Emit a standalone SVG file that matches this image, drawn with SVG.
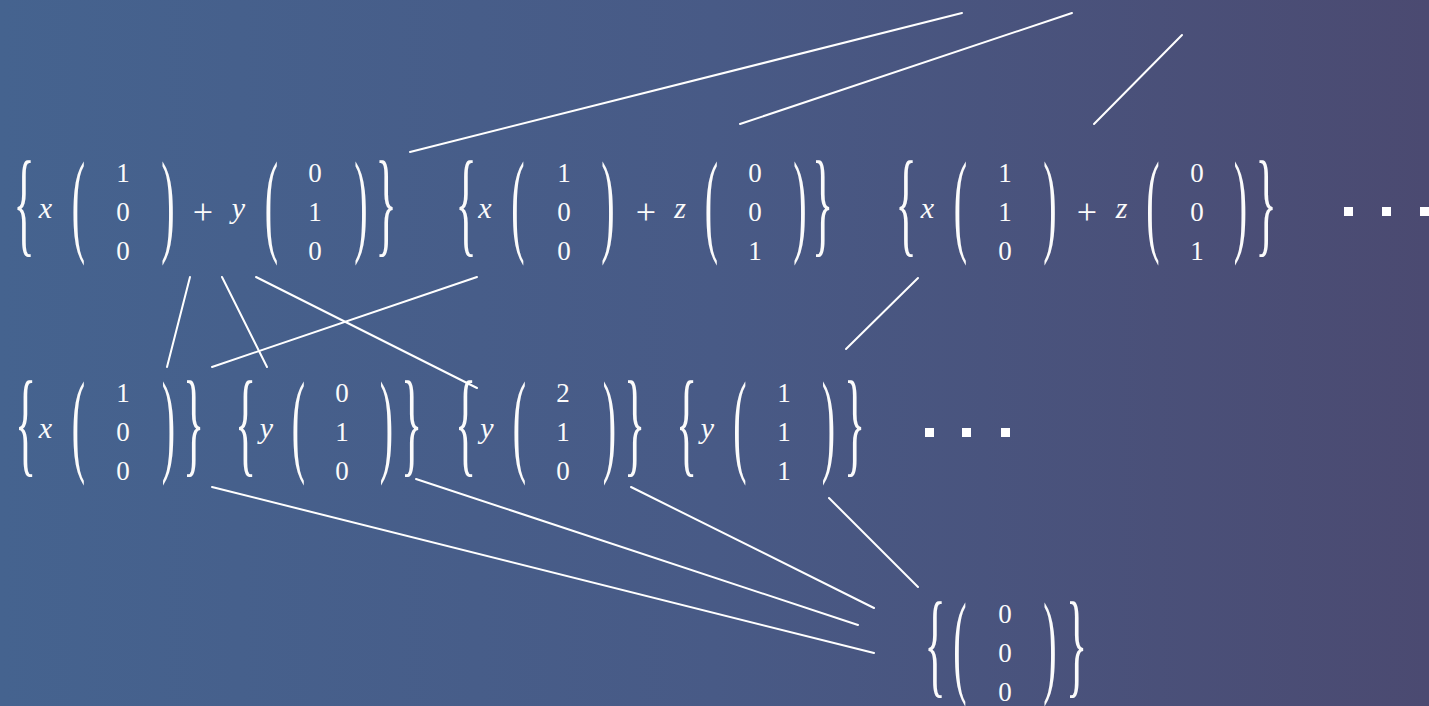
<svg xmlns="http://www.w3.org/2000/svg" width="1429" height="706" viewBox="0 0 1429 706">
<style>
.d{font-family:"Liberation Serif",serif;font-size:27px;text-anchor:middle;fill:#fbfbfb}
.v{font-family:"Liberation Serif",serif;font-size:30px;font-style:italic;text-anchor:middle;fill:#fbfbfb}
.p{font-family:"Liberation Serif",serif;font-size:36px;text-anchor:middle;fill:#fbfbfb}
.b{font-family:"Liberation Serif",serif;font-size:40px;text-anchor:middle;fill:#fbfbfb}
</style>
<defs>
<linearGradient id="bg" x1="0" y1="0" x2="1" y2="0">
<stop offset="0" stop-color="#45638f"/>
<stop offset="0.5" stop-color="#485a86"/>
<stop offset="1" stop-color="#4b4a71"/>
</linearGradient>
</defs>
<rect width="1429" height="706" fill="url(#bg)"/>

<g id="n1">
<text class="b" transform="translate(24,241) scale(1.1,2.9)">{</text>
<text class="v" x="45.5" y="218">x</text>
<text class="b" transform="translate(78.5,241) scale(1,2.85)">(</text>
<text class="d" x="123" y="182">1</text><text class="d" x="123" y="221">0</text><text class="d" x="123" y="260">0</text>
<text class="b" transform="translate(168,241) scale(1,2.85)">)</text>
<text class="p" x="203" y="224">+</text>
<text class="v" x="238.5" y="218">y</text>
<text class="b" transform="translate(271.5,241) scale(1,2.85)">(</text>
<text class="d" x="315" y="182">0</text><text class="d" x="315" y="221">1</text><text class="d" x="315" y="260">0</text>
<text class="b" transform="translate(361,241) scale(1,2.85)">)</text>
<text class="b" transform="translate(386,241) scale(1.1,2.9)">}</text>
</g>

<g id="n2">
<text class="b" transform="translate(466,241) scale(1.1,2.9)">{</text>
<text class="v" x="485" y="218">x</text>
<text class="b" transform="translate(518,241) scale(1,2.85)">(</text>
<text class="d" x="564" y="182">1</text><text class="d" x="564" y="221">0</text><text class="d" x="564" y="260">0</text>
<text class="b" transform="translate(608,241) scale(1,2.85)">)</text>
<text class="p" x="646" y="224">+</text>
<text class="v" x="680" y="218">z</text>
<text class="b" transform="translate(711.5,241) scale(1,2.85)">(</text>
<text class="d" x="755" y="182">0</text><text class="d" x="755" y="221">0</text><text class="d" x="755" y="260">1</text>
<text class="b" transform="translate(800,241) scale(1,2.85)">)</text>
<text class="b" transform="translate(822.5,241) scale(1.1,2.9)">}</text>
</g>

<g id="n3">
<text class="b" transform="translate(906,241) scale(1.1,2.9)">{</text>
<text class="v" x="927.5" y="218">x</text>
<text class="b" transform="translate(960.5,241) scale(1,2.85)">(</text>
<text class="d" x="1005" y="182">1</text><text class="d" x="1005" y="221">1</text><text class="d" x="1005" y="260">0</text>
<text class="b" transform="translate(1050,241) scale(1,2.85)">)</text>
<text class="p" x="1087" y="224">+</text>
<text class="v" x="1121.5" y="218">z</text>
<text class="b" transform="translate(1153,241) scale(1,2.85)">(</text>
<text class="d" x="1197" y="182">0</text><text class="d" x="1197" y="221">0</text><text class="d" x="1197" y="260">1</text>
<text class="b" transform="translate(1240.5,241) scale(1,2.85)">)</text>
<text class="b" transform="translate(1266,241) scale(1.1,2.9)">}</text>
</g>

<g id="dots1" fill="#fff">
<rect x="1344" y="207" width="9" height="9"/><rect x="1382" y="207" width="9" height="9"/><rect x="1420" y="207" width="9" height="9"/>
</g>

<g id="n4">
<text class="b" transform="translate(25.5,461) scale(1.1,2.9)">{</text>
<text class="v" x="45.5" y="438">x</text>
<text class="b" transform="translate(78.5,461) scale(1,2.85)">(</text>
<text class="d" x="123" y="402">1</text><text class="d" x="123" y="441">0</text><text class="d" x="123" y="480">0</text>
<text class="b" transform="translate(168.5,461) scale(1,2.85)">)</text>
<text class="b" transform="translate(193.5,461) scale(1.1,2.9)">}</text>
</g>

<g id="n5">
<text class="b" transform="translate(245.5,461) scale(1.1,2.9)">{</text>
<text class="v" x="266.5" y="438">y</text>
<text class="b" transform="translate(298.5,461) scale(1,2.85)">(</text>
<text class="d" x="342" y="402">0</text><text class="d" x="342" y="441">1</text><text class="d" x="342" y="480">0</text>
<text class="b" transform="translate(386.5,461) scale(1,2.85)">)</text>
<text class="b" transform="translate(411.5,461) scale(1.1,2.9)">}</text>
</g>

<g id="n6">
<text class="b" transform="translate(465.5,461) scale(1.1,2.9)">{</text>
<text class="v" x="487" y="438">y</text>
<text class="b" transform="translate(519.5,461) scale(1,2.85)">(</text>
<text class="d" x="563" y="402">2</text><text class="d" x="563" y="441">1</text><text class="d" x="563" y="480">0</text>
<text class="b" transform="translate(609.5,461) scale(1,2.85)">)</text>
<text class="b" transform="translate(634.5,461) scale(1.1,2.9)">}</text>
</g>

<g id="n7">
<text class="b" transform="translate(686.5,461) scale(1.1,2.9)">{</text>
<text class="v" x="707.5" y="438">y</text>
<text class="b" transform="translate(740,461) scale(1,2.85)">(</text>
<text class="d" x="784" y="402">1</text><text class="d" x="784" y="441">1</text><text class="d" x="784" y="480">1</text>
<text class="b" transform="translate(828.5,461) scale(1,2.85)">)</text>
<text class="b" transform="translate(854.5,461) scale(1.1,2.9)">}</text>
</g>

<g id="dots2" fill="#fff">
<rect x="925" y="428" width="9" height="9"/><rect x="962" y="428" width="9" height="9"/><rect x="1001" y="428" width="9" height="9"/>
</g>

<g id="n8">
<text class="b" transform="translate(935,682) scale(1.1,2.9)">{</text>
<text class="b" transform="translate(960,682) scale(1,2.85)">(</text>
<text class="d" x="1005" y="623">0</text><text class="d" x="1005" y="662">0</text><text class="d" x="1005" y="701">0</text>
<text class="b" transform="translate(1050,682) scale(1,2.85)">)</text>
<text class="b" transform="translate(1076.5,682) scale(1.1,2.9)">}</text>
</g>

<g id="edges" stroke="#fff" stroke-width="2" stroke-linecap="round" fill="none">
<line x1="410" y1="152" x2="962" y2="13"/>
<line x1="740" y1="124" x2="1072" y2="13"/>
<line x1="1094" y1="124" x2="1182" y2="35"/>
<line x1="190" y1="277" x2="167" y2="367"/>
<line x1="222" y1="277" x2="267" y2="367"/>
<line x1="256" y1="277" x2="477" y2="388"/>
<line x1="477" y1="277" x2="212" y2="367"/>
<line x1="918" y1="278" x2="846" y2="349"/>
<line x1="212" y1="487" x2="874" y2="653"/>
<line x1="416" y1="479" x2="858" y2="625"/>
<line x1="631" y1="487" x2="874" y2="608"/>
<line x1="829" y1="498" x2="918" y2="587"/>
</g>
</svg>
